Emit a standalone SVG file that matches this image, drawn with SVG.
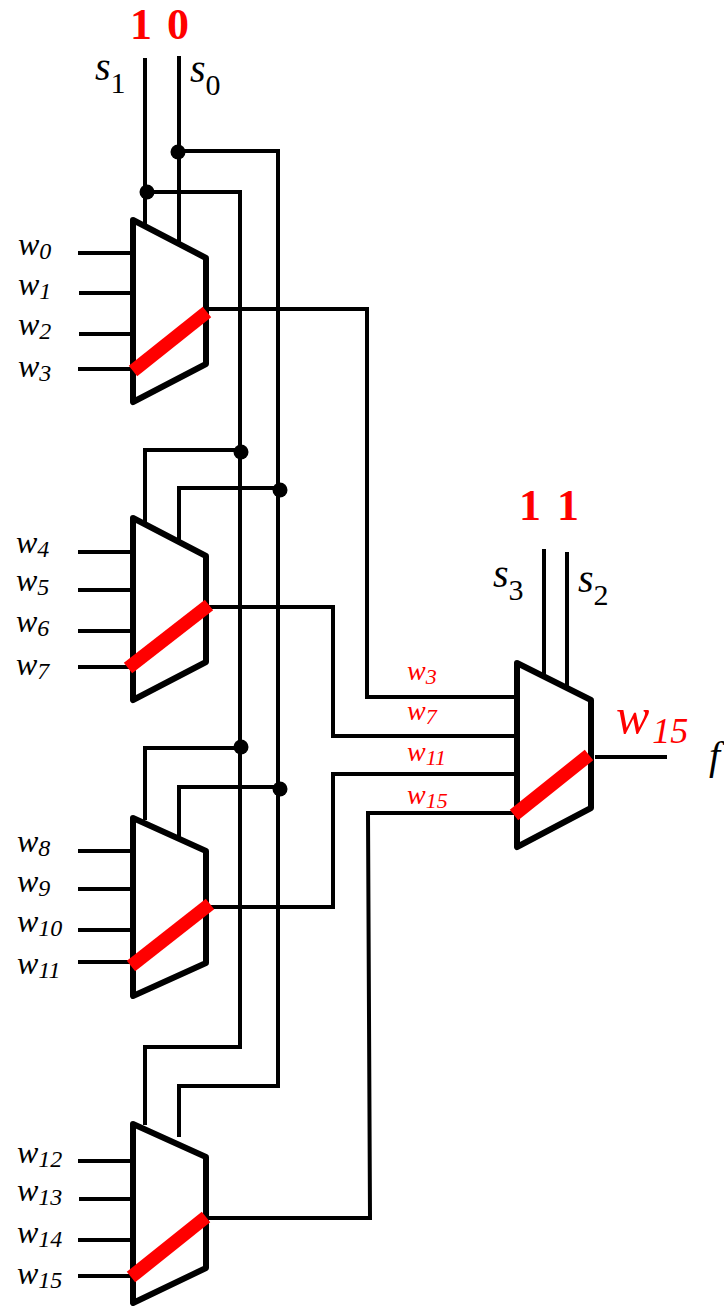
<svg xmlns="http://www.w3.org/2000/svg" width="724" height="1306" viewBox="0 0 724 1306">
<style>
.w{fill:none;stroke:#000;stroke-width:4}
.b{fill:#fff;stroke:#000;stroke-width:6;stroke-linejoin:round}
.r{stroke:#f00;stroke-width:13.5;fill:none}
.d{fill:#000}
text{font-family:"Liberation Serif","Times New Roman",serif}
.l{font-style:italic;font-size:32px;fill:#000}
.l tspan{font-size:24px}
.s{font-style:italic;font-size:40px;fill:#000}
.s tspan{font-style:normal;font-size:30px}
.m{font-style:italic;font-size:28px;fill:#f00}
.m tspan{font-size:22px}
.n{font-weight:bold;font-size:44px;fill:#f00}
.o{font-style:italic;font-size:50px;fill:#f00}
.o tspan{font-size:36px}
</style>
<rect width="724" height="1306" fill="#fff"/>
<g id="connectors">
<path class="w" d="M145 58V224M179 56V242M178 151H278V1086H179V1137M147 192H240V1047H145V1125"/>
<path class="w" d="M145 522V450H241M179 540V488H280M145 820V748H241M179 838V787H280"/>
<path class="w" d="M206 309H367V697H517M206 607H333V736H517M206 907H333V774H517M206 1218H370L368 813H517"/>
<path class="w" d="M78 253H133M79 293H133M79 334H133M78 369H133M78 552H133M78 590H133M78 631H133M78 667H133M78 851H133M78 889H133M78 930H133M78 962H133M78 1161H133M79 1199H133M78 1240H133M78 1276H133"/>
<path class="w" d="M544 549V675M567 552V690M595 757H667"/>
<circle class="d" cx="147" cy="192" r="7.5"/><circle class="d" cx="178" cy="152" r="7.5"/>
<circle class="d" cx="241" cy="452" r="7.5"/><circle class="d" cx="280" cy="490" r="7.5"/>
<circle class="d" cx="241" cy="747" r="7.5"/><circle class="d" cx="280" cy="789" r="7.5"/>
</g>
<g id="mux0"><path class="b" d="M133 220L206 258V364L133 402Z"/><path class="r" d="M133 371L207 312"/></g>
<g id="mux1"><path class="b" d="M133 518L206 556V662L133 700Z"/><path class="r" d="M128 668L209 605"/></g>
<g id="mux2"><path class="b" d="M133 818L206 851V963L133 996Z"/><path class="r" d="M131 966L210 904"/></g>
<g id="mux3"><path class="b" d="M133 1124L206 1157V1268L133 1303Z"/><path class="r" d="M131 1277L206 1217"/></g>
<g id="mux4"><path class="b" d="M517 663L591 700V808L517 847Z"/><path class="r" d="M514 815L589 755"/></g>
<g id="labels">
<text class="n" x="130" y="39">1</text><text class="n" x="167" y="39">0</text>
<text class="n" x="519" y="520">1</text><text class="n" x="557" y="520">1</text>
<text class="s" x="95" y="80">s<tspan dy="13">1</tspan></text>
<text class="s" x="190" y="82">s<tspan dy="13">0</tspan></text>
<text class="s" x="493" y="587">s<tspan dy="13">3</tspan></text>
<text class="s" x="578" y="592">s<tspan dy="13">2</tspan></text>
<text class="l" x="18" y="255">w<tspan dy="4">0</tspan></text>
<text class="l" x="18" y="295">w<tspan dy="4">1</tspan></text>
<text class="l" x="18" y="335">w<tspan dy="4">2</tspan></text>
<text class="l" x="18" y="377">w<tspan dy="4">3</tspan></text>
<text class="l" x="16" y="553">w<tspan dy="4">4</tspan></text>
<text class="l" x="16" y="591">w<tspan dy="4">5</tspan></text>
<text class="l" x="16" y="632">w<tspan dy="4">6</tspan></text>
<text class="l" x="16" y="675">w<tspan dy="4">7</tspan></text>
<text class="l" x="17" y="852">w<tspan dy="4">8</tspan></text>
<text class="l" x="17" y="892">w<tspan dy="4">9</tspan></text>
<text class="l" x="17" y="932">w<tspan dy="4">10</tspan></text>
<text class="l" x="17" y="974">w<tspan dy="4">11</tspan></text>
<text class="l" x="17" y="1163">w<tspan dy="4">12</tspan></text>
<text class="l" x="17" y="1201">w<tspan dy="4">13</tspan></text>
<text class="l" x="17" y="1243">w<tspan dy="4">14</tspan></text>
<text class="l" x="17" y="1284">w<tspan dy="4">15</tspan></text>
<text class="m" x="407" y="680">w<tspan dy="4">3</tspan></text>
<text class="m" x="407" y="720">w<tspan dy="4">7</tspan></text>
<text class="m" x="407" y="761">w<tspan dy="4">11</tspan></text>
<text class="m" x="407" y="804">w<tspan dy="4">15</tspan></text>
<text class="o" x="616" y="733">w<tspan dx="3" dy="10">15</tspan></text>
<text class="s" x="709" y="769">f</text>
</g>
</svg>
